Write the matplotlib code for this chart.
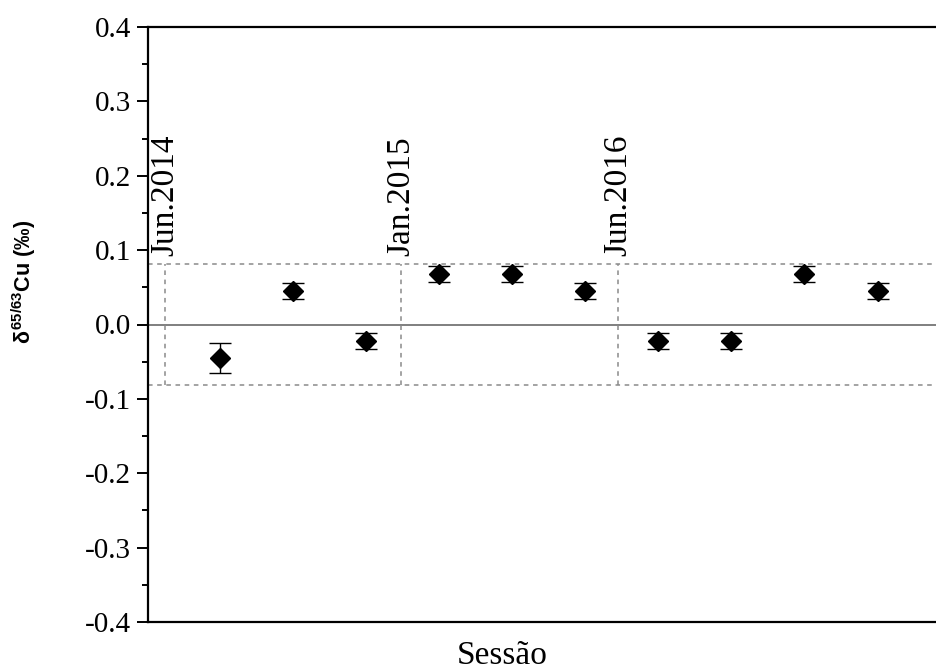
import numpy as np
import matplotlib
matplotlib.use('Agg')
import matplotlib.pyplot as plt
from matplotlib.ticker import MultipleLocator, FuncFormatter

plt.rcParams['font.family'] = ['Liberation Serif', 'DejaVu Serif']
plt.rcParams['mathtext.fontset'] = 'custom'
plt.rcParams['mathtext.rm'] = 'Liberation Sans:bold'
plt.rcParams['mathtext.it'] = 'Liberation Sans:bold'
plt.rcParams['mathtext.bf'] = 'Liberation Sans:bold'

# session values (delta 65/63 Cu, permil) and their uncertainties
sessions = np.arange(1, 11)
delta_cu = [-0.045, 0.045, -0.022, 0.068, 0.068, 0.045, -0.022, -0.022, 0.068, 0.045]
delta_err = [0.020, 0.011, 0.011, 0.011, 0.011, 0.011, 0.011, 0.011, 0.011, 0.011]

# campaign boundaries (in session units) and labels
campaign_pos = [0.25, 3.48, 6.45]
campaign_labels = ['Jun.2014', 'Jan.2015', 'Jun.2016']
limit = 0.082

fig = plt.figure(figsize=(9.36, 6.71), dpi=100)
ax = fig.add_axes([148 / 936, 1 - 622 / 671, (936 - 148) / 936, (622 - 27) / 671])

ax.set_xlim(0.014, 10.8)
ax.set_ylim(-0.4, 0.4)

# reference lines
ax.axhline(0, color='#7f7f7f', lw=1.4, zorder=1)
ax.axhline(limit, color='#8a8a8a', lw=1.1, ls=(0, (3, 3)), zorder=1)
ax.axhline(-limit, color='#8a8a8a', lw=1.1, ls=(0, (3, 3)), zorder=1)
for xpos, lab in zip(campaign_pos, campaign_labels):
    ax.plot([xpos, xpos], [-limit, limit], color='#8a8a8a', lw=1.1, ls=(0, (3, 3)), zorder=1)
    ax.text(xpos, limit + 0.01, lab, rotation=90, ha='center', va='bottom', fontsize=24)

ax.errorbar(sessions, delta_cu, yerr=delta_err, fmt='D', color='black', ms=10,
            ecolor='black', elinewidth=1.0, capsize=8, capthick=1.0, zorder=3, clip_on=False)

ax.yaxis.set_major_locator(MultipleLocator(0.1))
ax.yaxis.set_minor_locator(MultipleLocator(0.05))
ax.yaxis.set_major_formatter(FuncFormatter(lambda v, p: '%.1f' % v if abs(v) > 1e-9 else '0.0'))
ax.tick_params(axis='y', which='major', direction='out', length=8, width=1.4, labelsize=21, pad=4)
ax.tick_params(axis='y', which='minor', direction='out', length=4.5, width=1.4)
ax.set_xticks([])
for side in ['left', 'top', 'bottom']:
    ax.spines[side].set_linewidth(1.6)
ax.spines['right'].set_visible(False)

fig.text(24 / 936, 1 - 282 / 671, r'$\delta^{65/63}$Cu (‰)', rotation=90, ha='center', va='center',
         fontsize=15.5, fontweight='bold', family=['Liberation Sans', 'DejaVu Sans'])
fig.text(502 / 936, 1 - 656 / 671, 'Sessão', ha='center', va='center', fontsize=24)

fig.savefig('out.png', dpi=100)
